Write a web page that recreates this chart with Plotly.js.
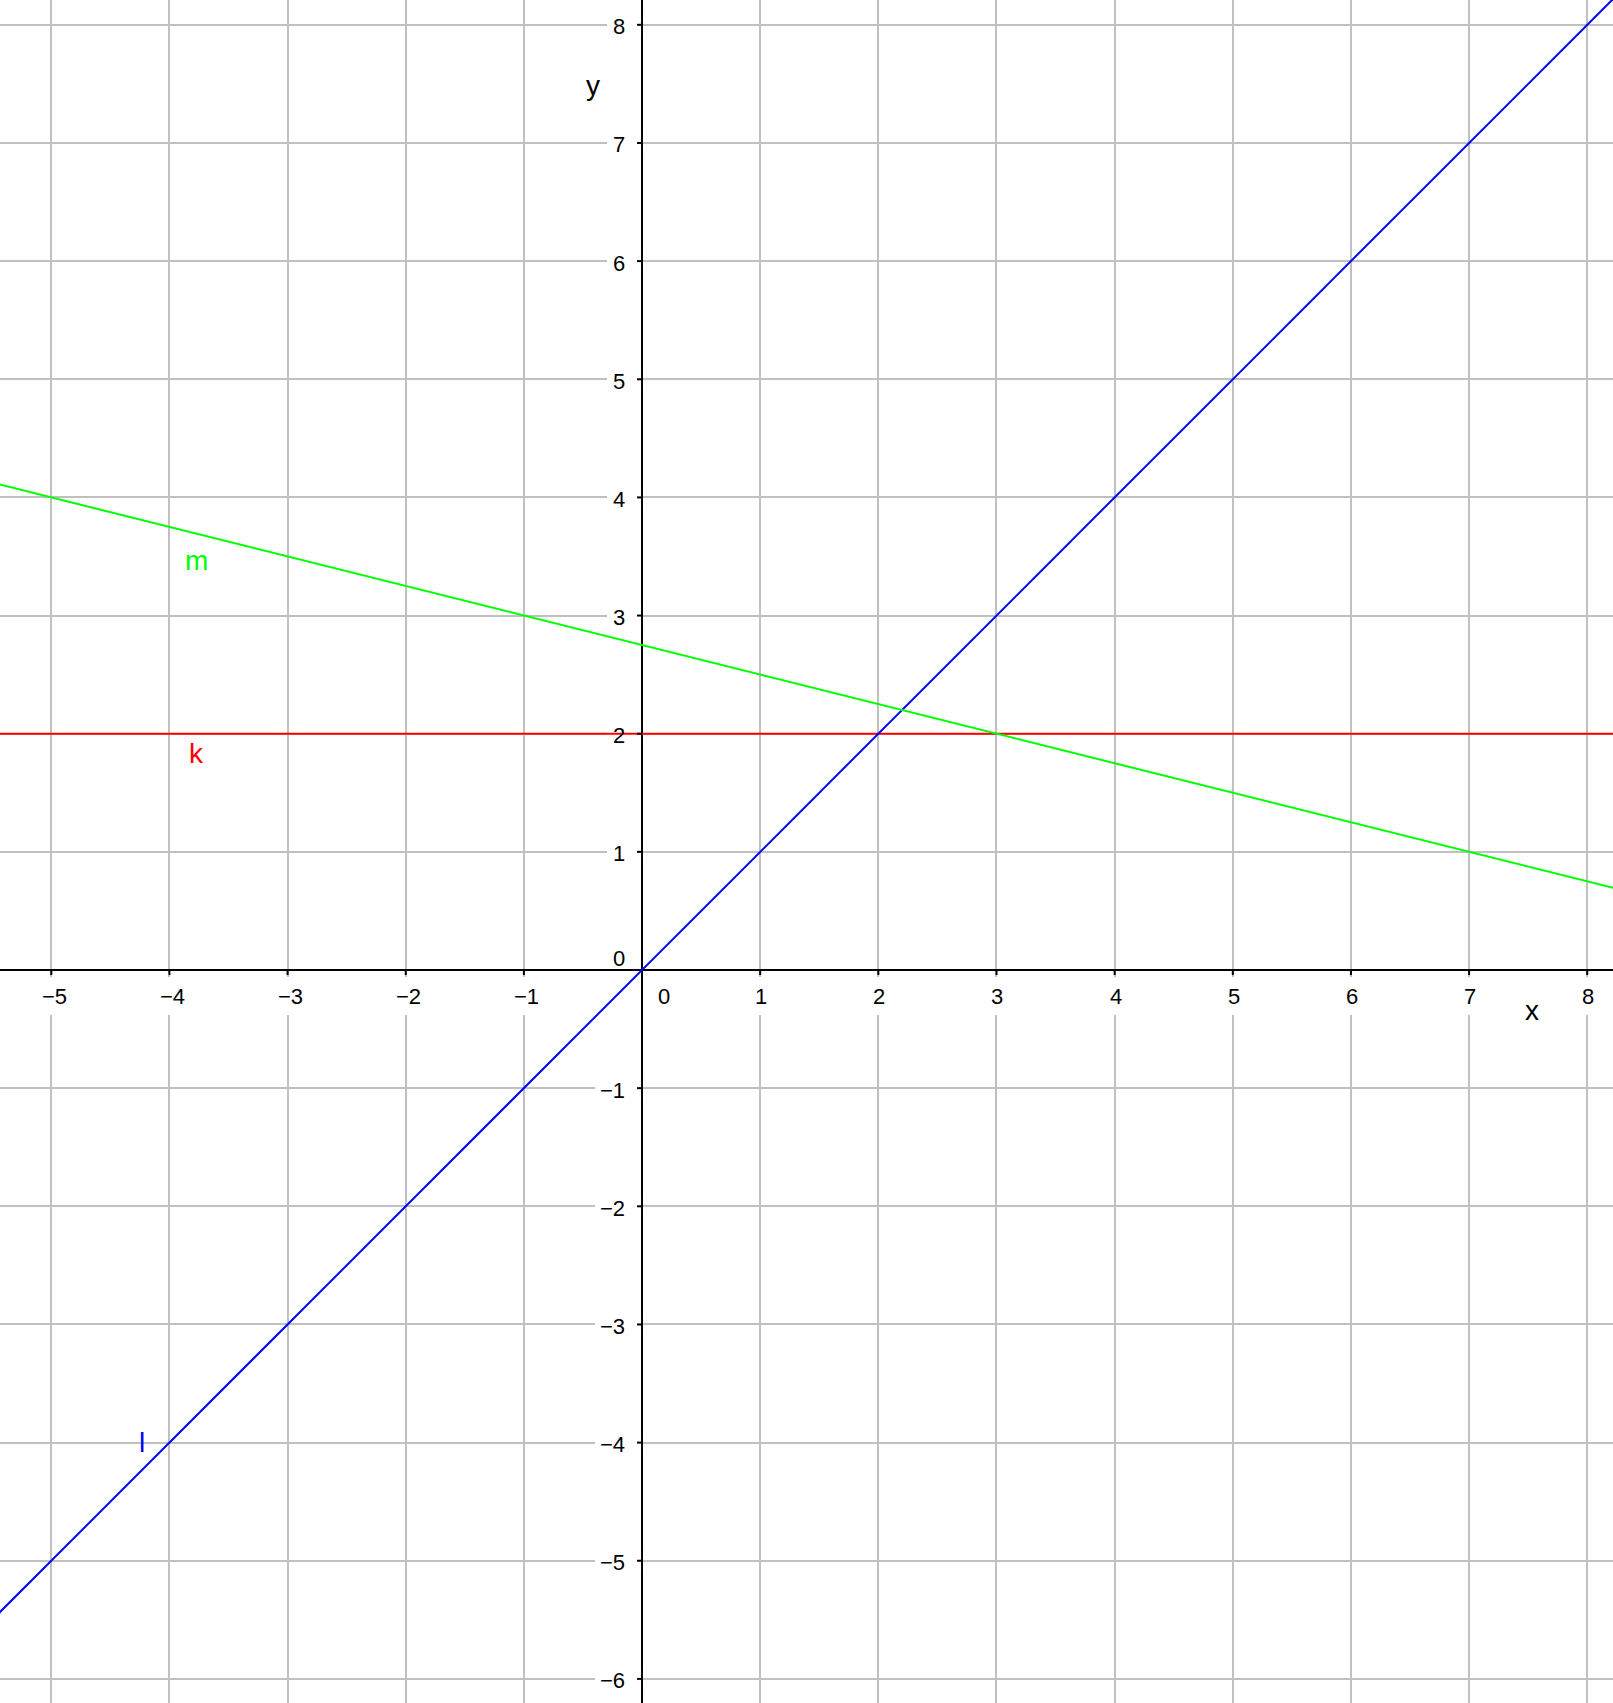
<!DOCTYPE html>
<html>
<head>
<meta charset="utf-8">
<script src="https://cdn.plot.ly/plotly-3.0.1.min.js"></script>
<style>html,body{margin:0;padding:0;background:#fff;}</style>
</head>
<body>
<div id="chart" style="width:1613px;height:1703px;"></div>
<script>
// ---- data ----
var xTicks = [-5, -4, -3, -2, -1, 1, 2, 3, 4, 5, 6, 7, 8];
var xTickLabels = ["\u22125", "\u22124", "\u22123", "\u22122", "\u22121", "1", "2", "3", "4", "5", "6", "7", "8"];
var yTicks = [8, 7, 6, 5, 4, 3, 2, 1, -1, -2, -3, -4, -5, -6];
var yTickLabels = ["8", "7", "6", "5", "4", "3", "2", "1", "\u22121", "\u22122", "\u22123", "\u22124", "\u22125", "\u22126"];

var lineX = [-6, 9];
var kY = [2, 2];        // k: y = 2
var lY = [-6, 9];       // l: y = x
var mY = [4.25, 0.5];   // m: through (-5,4), (3,2), (7,1)

var lineNames = ["k", "l", "m"];
var lineColors = ["#ff0000", "#0000ff", "#00ff00"];
var labelX = [-3.77, -4.23, -3.77];
var labelY = [1.83, -4.0, 3.47];

var xRange = [-5.434, 8.218];
var yRange = [-6.204, 8.210];

// ---- traces ----
var seriesY = [kY, lY, mY];
var traces = lineNames.map(function (n, i) {
  return {
    x: lineX, y: seriesY[i], type: "scatter", mode: "lines", name: n,
    line: {color: lineColors[i], width: 2}, hoverinfo: "skip"
  };
});

var font = "Liberation Sans, Arial, sans-serif";
var tickSize = 22;
var shapes = [];
var annotations = [];

xTicks.forEach(function (t, i) {
  shapes.push({type: "rect", layer: "between", xref: "x", yref: "y",
    xsizemode: "pixel", xanchor: t, x0: -18, x1: 18,
    ysizemode: "pixel", yanchor: 0, y0: -7, y1: -45,
    fillcolor: "#ffffff", line: {width: 0}});
  shapes.push({type: "line", layer: "above", xref: "x", yref: "y",
    x0: t, x1: t, ysizemode: "pixel", yanchor: 0, y0: 0, y1: -5,
    line: {color: "#000000", width: 2}});
  annotations.push({x: t, y: 0, xref: "x", yref: "y", text: xTickLabels[i],
    showarrow: false, xanchor: "center", yanchor: "middle",
    xshift: t < 0 ? 3 : 1, yshift: -26,
    font: {family: font, size: tickSize, color: "#000000"}});
});

yTicks.forEach(function (t, i) {
  var w = 12 * yTickLabels[i].length;
  shapes.push({type: "rect", layer: "between", xref: "x", yref: "y",
    xsizemode: "pixel", xanchor: 0, x0: -(23 + w), x1: -1,
    ysizemode: "pixel", yanchor: t, y0: -12, y1: 12,
    fillcolor: "#ffffff", line: {width: 0}});
  shapes.push({type: "line", layer: "above", xref: "x", yref: "y",
    y0: t, y1: t, xsizemode: "pixel", xanchor: 0, x0: 0, x1: -5,
    line: {color: "#000000", width: 2}});
  annotations.push({x: 0, y: t, xref: "x", yref: "y", text: yTickLabels[i],
    showarrow: false, xanchor: "right", yanchor: "middle",
    xshift: -15, yshift: -2,
    font: {family: font, size: tickSize, color: "#000000"}});
});

// origin labels
annotations.push({x: 0, y: 0, xref: "x", yref: "y", text: "0", showarrow: false,
  xanchor: "right", yanchor: "middle", xshift: -15, yshift: 11.5,
  font: {family: font, size: tickSize, color: "#000000"}});
annotations.push({x: 0, y: 0, xref: "x", yref: "y", text: "0", showarrow: false,
  xanchor: "center", yanchor: "middle", xshift: 22, yshift: -26,
  font: {family: font, size: tickSize, color: "#000000"}});

// axis names
annotations.push({x: 7.533, y: 0, xref: "x", yref: "y", text: "x", showarrow: false,
  xanchor: "center", yanchor: "middle", yshift: -40,
  font: {family: font, size: 28, color: "#000000"}});
annotations.push({x: 0, y: 7.485, xref: "x", yref: "y", text: "y", showarrow: false,
  xanchor: "center", yanchor: "middle", xshift: -49,
  font: {family: font, size: 28, color: "#000000"}});

// line labels
lineNames.forEach(function (n, i) {
  annotations.push({x: labelX[i], y: labelY[i], xref: "x", yref: "y", text: n,
    showarrow: false, xanchor: "center", yanchor: "middle",
    font: {family: font, size: 28, color: lineColors[i]}});
});

var layout = {
  width: 1613, height: 1703,
  margin: {l: 0, r: 0, t: 0, b: 0, pad: 0},
  paper_bgcolor: "#ffffff", plot_bgcolor: "#ffffff",
  showlegend: false,
  xaxis: {range: xRange, dtick: 1, tick0: 0, showgrid: true, gridcolor: "#c0c0c0", gridwidth: 2,
    zeroline: true, zerolinecolor: "#000000", zerolinewidth: 2,
    showticklabels: false, ticks: "", showline: false, fixedrange: true},
  yaxis: {range: yRange, dtick: 1, tick0: 0, showgrid: true, gridcolor: "#c0c0c0", gridwidth: 2,
    zeroline: true, zerolinecolor: "#000000", zerolinewidth: 2,
    showticklabels: false, ticks: "", showline: false, fixedrange: true},
  shapes: shapes,
  annotations: annotations
};

Plotly.newPlot("chart", traces, layout, {displayModeBar: false, staticPlot: true});
</script>
</body>
</html>
